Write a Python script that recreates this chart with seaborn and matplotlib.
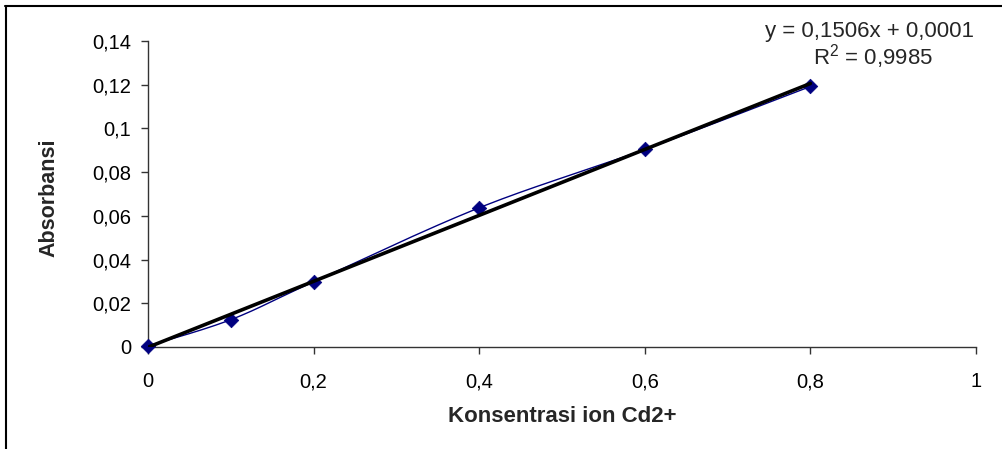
import numpy as np
import pandas as pd
import matplotlib
matplotlib.use("Agg")
import matplotlib.pyplot as plt
from matplotlib.lines import Line2D
import seaborn as sns

# ---- data ----
konsentrasi = [0.0, 0.1, 0.2, 0.4, 0.6, 0.8]
absorbansi = [0.0005, 0.0125, 0.0298, 0.0637, 0.0904, 0.1192]
x_ticks = [0, 0.2, 0.4, 0.6, 0.8, 1.0]
x_labels = ["0", "0,2", "0,4", "0,6", "0,8", "1"]
y_ticks = [0, 0.02, 0.04, 0.06, 0.08, 0.10, 0.12, 0.14]
y_labels = ["0", "0,02", "0,04", "0,06", "0,08", "0,1", "0,12", "0,14"]
eq_text = "y = 0,1506x + 0,0001"
r2_text = "R$^2$ = 0,9985"
x_title = "Konsentrasi ion Cd2+"
y_title = "Absorbansi"

sns.set_theme(style="white")
plt.rcParams['font.family'] = ['Liberation Sans', 'DejaVu Sans']
plt.rcParams['mathtext.fontset'] = 'custom'
plt.rcParams['mathtext.rm'] = 'Liberation Sans'

df = pd.DataFrame({"x": konsentrasi, "y": absorbansi})


def smooth_curve(xs, ys, n=30, t=0.5):
    """Excel-like smoothed line (Catmull-Rom style Bezier)."""
    xs = np.asarray(xs, float); ys = np.asarray(ys, float)
    P = np.column_stack([xs, ys])
    out = []
    for i in range(len(P) - 1):
        p0 = P[i - 1] if i > 0 else P[i]
        p1 = P[i]; p2 = P[i + 1]
        p3 = P[i + 2] if i + 2 < len(P) else P[i + 1]
        c1 = p1 + (p2 - p0) * t / 3
        c2 = p2 - (p3 - p1) * t / 3
        s = np.linspace(0, 1, n)[:, None]
        seg = (1 - s) ** 3 * p1 + 3 * (1 - s) ** 2 * s * c1 + 3 * (1 - s) * s ** 2 * c2 + s ** 3 * p2
        out.append(seg if i == 0 else seg[1:])
    arr = np.vstack(out)
    return arr[:, 0], arr[:, 1]


fig = plt.figure(figsize=(10.03, 4.49), dpi=100)
ax = fig.add_axes([148 / 1003, 1 - 347 / 449, (976 - 148) / 1003, (347 - 41) / 449])

sx, sy = smooth_curve(konsentrasi, absorbansi)
ax.plot(sx, sy, color="#000080", lw=1.0, zorder=3)
sns.scatterplot(data=df, x="x", y="y", marker="D", s=55, color="#000080",
                edgecolor="#000080", linewidth=0.5, ax=ax, zorder=4, clip_on=False)
sns.regplot(data=df, x="x", y="y", ci=None, scatter=False, ax=ax,
            line_kws=dict(color="black", lw=2.6, zorder=5))

ax.set_xlim(0, 1)
ax.set_ylim(0, 0.14)
ax.set_xticks(x_ticks)
ax.set_xticklabels(x_labels)
ax.set_yticks(y_ticks)
ax.set_yticklabels(y_labels)
ax.tick_params(axis="both", which="both", direction="out", length=5, width=1,
               color="#333333", labelsize=14.5, labelcolor="black",
               bottom=True, left=True)
ax.tick_params(axis="x", pad=13)
ax.tick_params(axis="y", pad=7)
for side in ["top", "right"]:
    ax.spines[side].set_visible(False)
for side in ["left", "bottom"]:
    ax.spines[side].set_color("#333333")
    ax.spines[side].set_linewidth(1.0)
ax.grid(False)
ax.set_xlabel("")
ax.set_ylabel("")

fig.text(562 / 1003, 1 - 417 / 449, x_title, ha="center", va="center",
         fontsize=16, fontweight="bold")
fig.text(49 / 1003, 1 - 198 / 449, y_title, ha="center", va="center",
         fontsize=15.5, fontweight="bold", rotation=90)
fig.text(870 / 1003, 1 - 31 / 449, eq_text, ha="center", va="center", fontsize=16)
fig.text(873 / 1003, 1 - 57 / 449, r2_text, ha="center", va="center", fontsize=16)

# chart frame (top and left edges visible)
fig.add_artist(Line2D([5 / 1003, 1], [1 - 6 / 449, 1 - 6 / 449], color="black", lw=1.5,
                      transform=fig.transFigure))
fig.add_artist(Line2D([6 / 1003, 6 / 1003], [0, 1 - 6 / 449], color="black", lw=1.5,
                      transform=fig.transFigure))

fig.savefig("out.png", dpi=100)
